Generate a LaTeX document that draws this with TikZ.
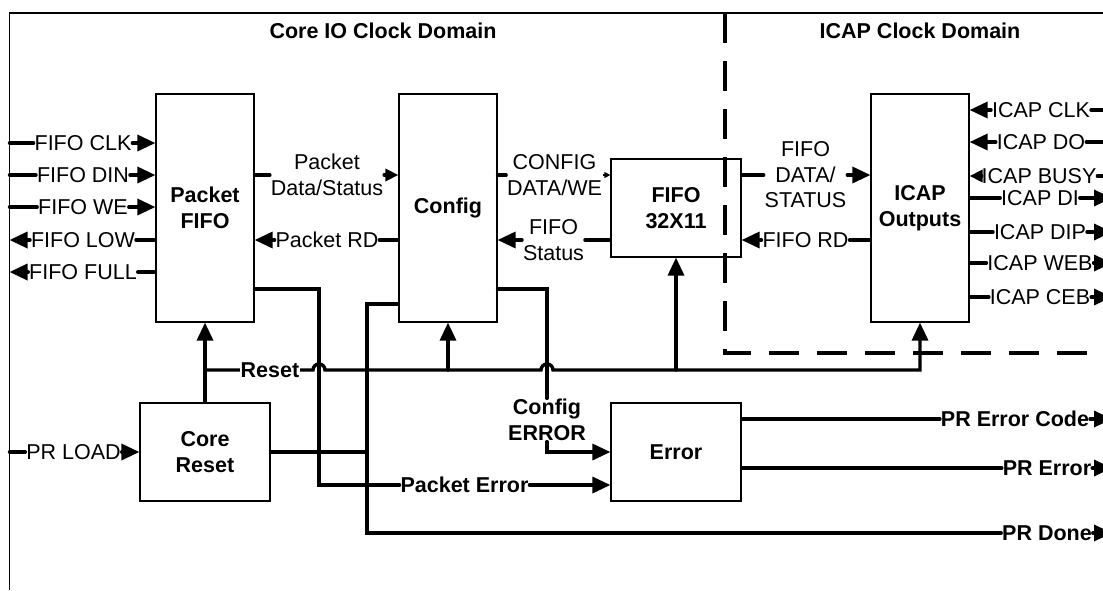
\documentclass[tikz,border=0pt]{standalone}
\usepackage{fontspec}
\setmainfont{Liberation Sans}
\usetikzlibrary{arrows.meta,calc}
\newcommand{\sigfont}{\fontsize{10.75}{12.75}\selectfont}

\begin{document}
\begin{tikzpicture}[
    x=0.5pt, y=-0.5pt,
    font=\sigfont,
    box/.style={draw, line width=0.6pt, align=center, font=\sigfont\bfseries},
    tallbox/.style={box, minimum width=49pt, minimum height=114pt},
    widebox/.style={box, minimum width=65pt, minimum height=49pt},
    lbl/.style={inner sep=0.5pt, outer sep=0pt, align=center, font=\sigfont},
    blbl/.style={lbl, font=\sigfont\bfseries},
    domtitle/.style={font=\sigfont\bfseries},
    wire/.style={line width=1.7pt, line cap=round},
    arrow/.style={wire, -{Triangle[length=9pt,width=8pt]}},
    smallarrow/.style={wire, -{Triangle[length=6.5pt,width=6pt]}},
    tinyarrow/.style={line width=0.6pt, -{Triangle[length=3pt,width=3pt]}},
    frameline/.style={line width=0.6pt},
    domline/.style={line width=2pt, dash pattern=on 15pt off 9pt}
  ]
    \useasboundingbox (0,0) rectangle (1103,590);

    % Frame and clock domains
    \draw[frameline] (9.5,590) -- (9.5,13) -- (1103,13);
    \draw[domline] (725,13) -- (725,353) -- (1103,353);
    \node[domtitle] (coretitle) at (383,31) {Core IO Clock Domain};
    \node[domtitle] (icaptitle) at (920,31) {ICAP Clock Domain};

    % Blocks
    \node[tallbox] (pfifo) at (205,208) {Packet\\FIFO};
    \node[tallbox] (config) at (448,208) {Config};
    \node[widebox] (fifo) at (676,208) {FIFO\\32X11};
    \node[tallbox] (icap) at (920,208) {ICAP\\Outputs};
    \node[widebox] (rst) at (205,452) {Core\\Reset};
    \node[widebox] (err) at (676,452) {Error};

    % Helper coordinates
    \coordinate (lb) at (9.5,0);
    \coordinate (rb) at (1112,0);
    \coordinate (rline) at (0,370);
    \coordinate (lowout) at (0,289);
    \coordinate (doney) at (0,304);
    \coordinate (pkx) at (319,0);
    \coordinate (donex) at (367,0);

    % Packet FIFO ports
    \foreach \name/\txt/\yy in {clk/FIFO CLK/143, din/FIFO DIN/175, we/FIFO WE/207} {
      \node[lbl] (f\name) at (83,\yy) {\txt};
      \draw[wire] (lb |- f\name) -- (f\name.west);
      \draw[arrow] (f\name.east) -- (pfifo.west |- f\name);
    }
    \foreach \name/\txt/\yy in {low/FIFO LOW/240, full/FIFO FULL/272} {
      \node[lbl] (f\name) at (83,\yy) {\txt};
      \draw[wire] (pfifo.west |- f\name) -- (f\name.east);
      \draw[arrow] (f\name.west) -- (lb |- f\name);
    }

    % Packet FIFO <-> Config
    \node[lbl] (pdata) at (327,175) {Packet\\Data/Status};
    \draw[wire] (pfifo.east |- pdata) -- (pdata.west);
    \draw[smallarrow] (pdata.east) -- (config.west |- pdata);
    \node[lbl] (prd) at (327,240) {Packet RD};
    \draw[wire] (config.west |- prd) -- (prd.east);
    \draw[arrow] (prd.west) -- (pfifo.east |- prd);

    % Config <-> FIFO
    \node[lbl] (cdata) at (554.5,175) {CONFIG\\DATA/WE};
    \draw[wire] (config.east |- cdata) -- (cdata.west);
    \draw[tinyarrow] (cdata.east) -- (fifo.west |- cdata);
    \node[lbl] (fstat) at (553.5,240) {FIFO\\Status};
    \draw[wire] (fifo.west |- fstat) -- (fstat.east);
    \draw[arrow] (fstat.west) -- (config.east |- fstat);

    % FIFO <-> ICAP
    \node[lbl] (fdata) at (805.5,175) {FIFO\\DATA/\\STATUS};
    \draw[wire] (fifo.east |- fdata) -- (fdata.west);
    \draw[arrow] (fdata.east) -- (icap.west |- fdata);
    \node[lbl] (frd) at (805.5,240) {FIFO RD};
    \draw[wire] (icap.west |- frd) -- (frd.east);
    \draw[arrow] (frd.west) -- (fifo.east |- frd);

    % ICAP ports
    \foreach \name/\txt/\yy in {clk/ICAP CLK/110, do/ICAP DO/142} {
      \node[lbl] (i\name) at (1041,\yy) {\txt};
      \draw[wire] (rb |- i\name) -- (i\name.east);
      \draw[arrow] (i\name.west) -- (icap.east |- i\name);
    }
    \node[lbl] (ibusy) at (1039,176) {ICAP BUSY};
    \draw[wire] (rb |- ibusy) -- (ibusy.east);
    \draw[smallarrow] (ibusy.west) -- (icap.east |- ibusy);
    \foreach \name/\txt/\yy in {di/ICAP DI/198, dip/ICAP DIP/232, web/ICAP WEB/263, ceb/ICAP CEB/297} {
      \node[lbl] (i\name) at (1040,\yy) {\txt};
      \draw[wire] (icap.east |- i\name) -- (i\name.west);
      \draw[arrow] (i\name.east) -- (rb |- i\name);
    }

    % Core Reset
    \node[lbl] (prload) at (73.5,452) {PR LOAD};
    \draw[wire] (lb |- prload) -- (prload.west);
    \draw[arrow] (prload.east) -- (rst.west |- prload);
    \draw[arrow] (rst.north) -- (pfifo.south);
    \draw[arrow] (rst.north |- rline)
      -- ($(pkx |- rline)+(-6,0)$) arc[start angle=180, end angle=0, radius=3pt]
      -- ($(547,370)+(-6,0)$) arc[start angle=180, end angle=0, radius=3pt]
      -- (icap.south |- rline) -- (icap.south);
    \draw[arrow] (config.south |- rline) -- (config.south);
    \draw[arrow] (fifo.south |- rline) -- (fifo.south);
    \node[blbl, fill=white] (rstlbl) at (270,370) {Reset};

    % Error paths
    \node[blbl] (pklbl) at (464.5,485) {Packet Error};
    \draw[wire] (pfifo.east |- lowout) -| (pkx |- pklbl) -- (pklbl.west);
    \draw[arrow] (pklbl.east) -- (err.west |- pklbl);
    \node[blbl] (celbl) at (547,420) {Config\\ERROR};
    \draw[wire] (config.east |- lowout) -| (celbl.north);
    \draw[arrow] (celbl.south) |- (err.west);

    % Outputs
    \node[blbl] (codelbl) at (1015,419) {PR Error Code};
    \draw[wire] (err.east |- codelbl) -- (codelbl.west);
    \draw[arrow] (codelbl.east) -- (rb |- codelbl);
    \node[blbl] (prerr) at (1047,468) {PR Error};
    \draw[wire] (err.east |- prerr) -- (prerr.west);
    \draw[arrow] (prerr.east) -- (rb |- prerr);
    \node[blbl] (donelbl) at (1047,533) {PR Done};
    \draw[wire] (config.west |- doney) -| (donex |- donelbl) -- (donelbl.west);
    \draw[arrow] (donelbl.east) -- (rb |- donelbl);
    \draw[wire] (rst.east) -- (donex |- rst.east);
  \end{tikzpicture}
\end{document}
